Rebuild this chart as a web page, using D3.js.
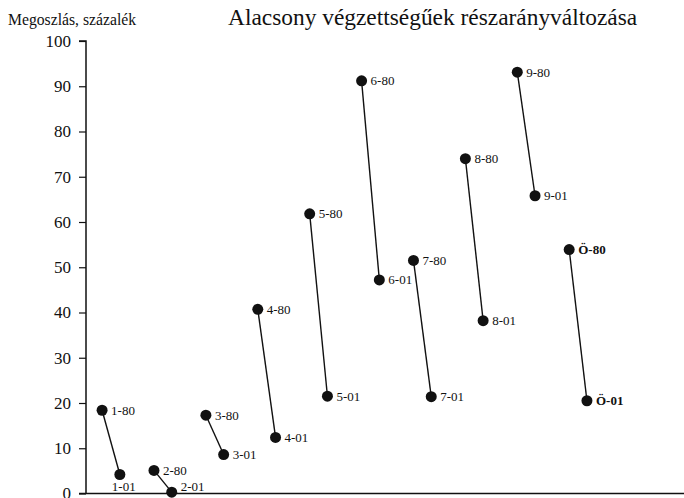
<!DOCTYPE html>
<html>
<head>
<meta charset="utf-8">
<script src="https://cdn.jsdelivr.net/npm/d3@7"></script>
<style>
  body { margin: 0; background: #fff; }
  text { font-family: "Liberation Serif", "Times New Roman", serif; fill: #111; }
</style>
</head>
<body>
<div id="graph"></div>
<script>
// groups and their 1980 / 2001 values
const groups = ["1", "2", "3", "4", "5", "6", "7", "8", "9", "Ö"]
const values80 = [18.4, 5.1, 17.3, 40.7, 61.8, 91.2, 51.5, 74.0, 93.1, 53.9]
const values01 = [4.2, 0.3, 8.6, 12.4, 21.5, 47.2, 21.4, 38.2, 65.8, 20.5]
const yTicks = [0, 10, 20, 30, 40, 50, 60, 70, 80, 90, 100]

const W = 684, H = 498
const margin = { top: 41, left: 86 },
    plotBottom = 493.5

const svg = d3.select("#graph")
    .append("svg")
    .attr("width", W)
    .attr("height", H)

const yScale = d3.scaleLinear()
    .domain([0, 100])
    .range([plotBottom, margin.top])

const xScale = d3.scaleBand()
    .domain(groups)
    .range([margin.left, margin.left + 10 * 51.9])
    .paddingInner(0)

const x80 = g => xScale(g) + xScale.bandwidth() * 0.31
const x01 = g => xScale(g) + xScale.bandwidth() * 0.652

// y axis
const yAxis = d3.axisLeft(yScale)
    .tickValues(yTicks)
    .tickSize(7)
    .tickPadding(8)

const gy = svg.append("g")
    .attr("transform", `translate(${margin.left},0)`)
    .call(yAxis)
gy.select(".domain").attr("stroke", "#111").attr("stroke-width", 1.5).attr("d", `M-7,${yScale(100)}H0V${plotBottom}`)
gy.selectAll(".tick line").attr("stroke", "#111").attr("stroke-width", 1.2)
gy.selectAll(".tick text")
    .style("font-family", "Liberation Serif, serif")
    .style("font-size", "17px")
    .attr("fill", "#111")

// x axis line
svg.append("line")
    .attr("x1", margin.left - 7)
    .attr("x2", W)
    .attr("y1", plotBottom)
    .attr("y2", plotBottom)
    .attr("stroke", "#111")
    .attr("stroke-width", 1.5)

// connecting lines
svg.selectAll("line.pair")
    .data(groups)
    .enter()
    .append("line")
    .attr("class", "pair")
    .attr("x1", d => x80(d))
    .attr("y1", (d, i) => yScale(values80[i]))
    .attr("x2", d => x01(d))
    .attr("y2", (d, i) => yScale(values01[i]))
    .attr("stroke", "#111")
    .attr("stroke-width", 1.4)

// points
const pts = []
groups.forEach((g, i) => {
    pts.push({ g, yr: "80", x: x80(g), v: values80[i] })
    pts.push({ g, yr: "01", x: x01(g), v: values01[i] })
})

svg.selectAll("circle")
    .data(pts)
    .enter()
    .append("circle")
    .attr("cx", d => d.x)
    .attr("cy", d => yScale(d.v))
    .attr("r", 5.5)
    .attr("fill", "#111")

// labels (a couple are nudged to avoid the axis)
const nudge = { "1-01": [-17, 12], "2-01": [0, -6] }
svg.selectAll("text.lbl")
    .data(pts)
    .enter()
    .append("text")
    .attr("class", "lbl")
    .attr("x", d => d.x + 9 + ((nudge[d.g + "-" + d.yr] || [0, 0])[0]))
    .attr("y", d => yScale(d.v) + 4.5 + ((nudge[d.g + "-" + d.yr] || [0, 0])[1]))
    .style("font-size", "13px")
    .style("font-weight", d => d.g === "Ö" ? "bold" : "normal")
    .text(d => d.g + "-" + d.yr)

// titles
svg.append("text")
    .attr("x", 8)
    .attr("y", 25)
    .style("font-size", "15.7px")
    .text("Megoszlás, százalék")

svg.append("text")
    .attr("x", 228)
    .attr("y", 25)
    .style("font-size", "23.4px")
    .text("Alacsony végzettségűek részarányváltozása")
</script>
</body>
</html>
